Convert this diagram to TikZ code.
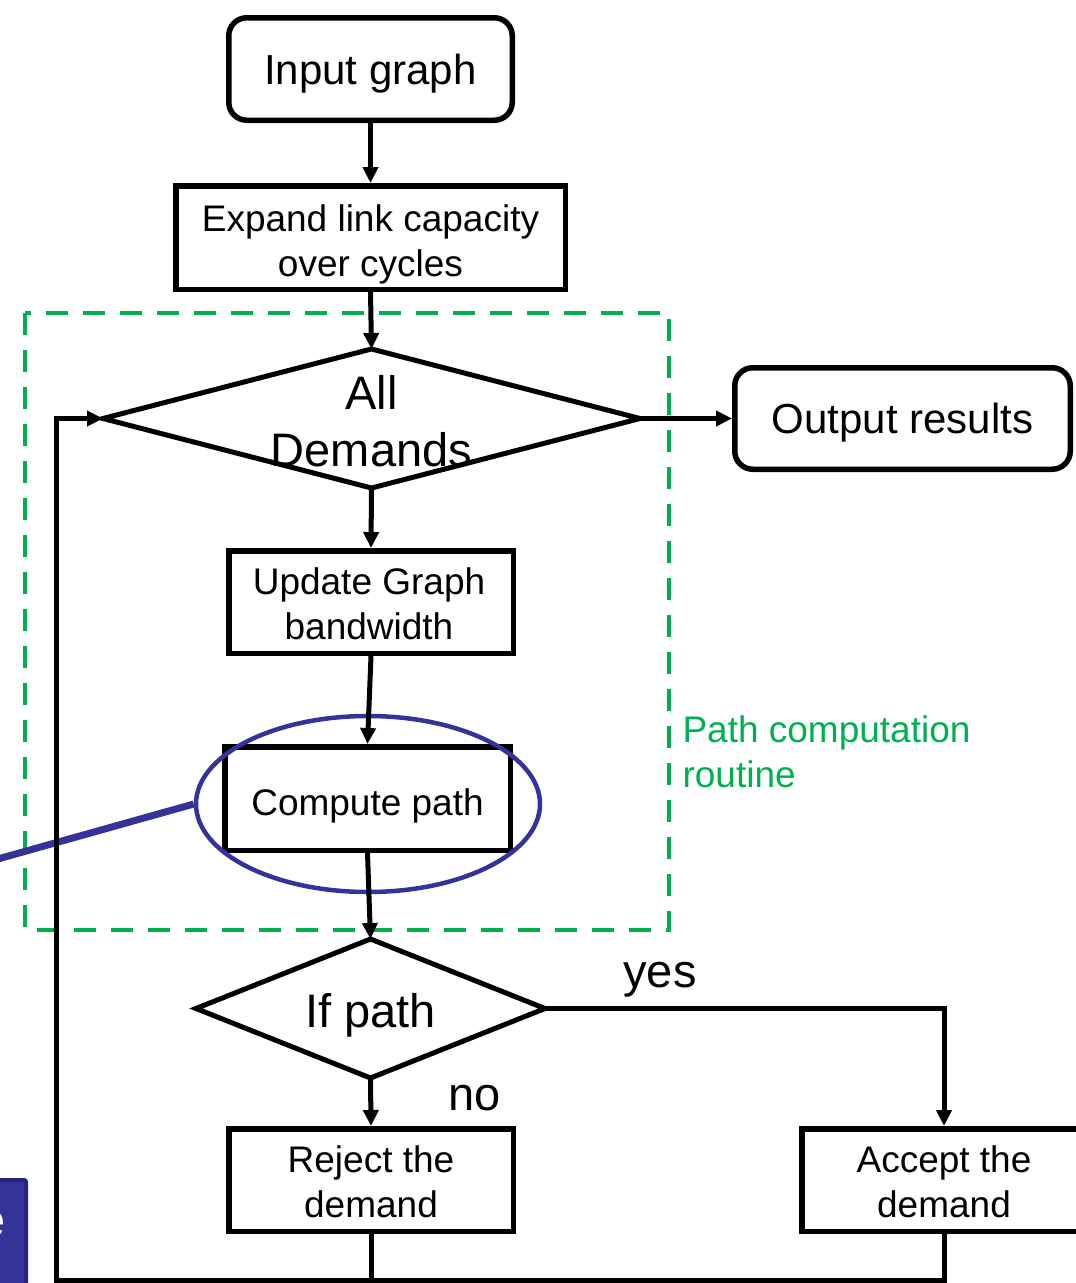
\documentclass[tikz,border=0pt]{standalone}
\usepackage{fontspec}
\setmainfont{Liberation Sans}
\usetikzlibrary{arrows.meta,shapes.geometric}
\definecolor{routinegreen}{RGB}{0,176,80}
\definecolor{ringblue}{RGB}{51,51,153}
\definecolor{tabedge}{RGB}{38,38,120}
\begin{document}
\begin{tikzpicture}[x=1pt,y=-1pt,
  txt/.style={font=\fontsize{37}{45}\selectfont},
  bigtxt/.style={font=\fontsize{47}{57}\selectfont},
  midtxt/.style={font=\fontsize{42}{50}\selectfont},
  box/.style={draw, line width=5.5pt, inner sep=0pt, align=center, txt},
  termbox/.style={box, rounded corners=18pt, midtxt},
  decision/.style={draw, diamond, line width=5pt, inner sep=0pt, outer sep=0pt},
  conn/.style={line width=5pt, -{Triangle[length=16pt,width=15pt]}},
  plain/.style={line width=5pt},
  routine/.style={draw=routinegreen, line width=4.5pt, dash pattern=on 22pt off 15pt},
]
\useasboundingbox (0,0) rectangle (1076,1283);

% routine frame
\draw[routine] (25,313) rectangle (669,930);
\node[anchor=west, align=left, text=routinegreen, txt] (routinelbl) at (679,752)
  {Path computation\\routine};

% flow nodes
\node[termbox, text depth=0pt, minimum width=283.5pt, minimum height=102.5pt] (input)
  at (370.5,69) {Input graph};
\node[box, minimum width=389.5pt, minimum height=103.5pt] (expand) at (370.5,237.5) {};
\node[txt, align=center] (expandtxt) at (370.5,244) {Expand link capacity\\over cycles};
\node[decision, minimum width=537pt, minimum height=139pt] (all) at (371.5,418.5) {};
\node[bigtxt, align=center] (alltxt) at (371.5,421.5) {All\\Demands};
\node[termbox, text depth=0pt, minimum width=335.5pt, minimum height=101.5pt] (output)
  at (902.5,418.5) {Output results};
\node[box, minimum width=284.5pt, minimum height=102.5pt] (update) at (371,602) {};
\node[txt, align=center] (updatetxt) at (369,603.5) {Update Graph\\bandwidth};
\node[box, minimum width=285.5pt, minimum height=103.5pt] (compute) at (367.5,798.5) {};
\node[txt] (computetxt) at (367.5,806) {Compute path};
\node[decision, minimum width=349pt, minimum height=139pt] (ifpath) at (370.5,1008.5) {};
\node[bigtxt] (iftxt) at (370.5,1015) {If path};
\node[box, minimum width=284.5pt, minimum height=102.5pt] (reject) at (371,1180) {};
\node[txt, align=center] (rejecttxt) at (371,1182) {Reject the\\demand};
\node[box, minimum width=284.5pt, minimum height=102.5pt] (accept) at (944,1180) {};
\node[txt, align=center] (accepttxt) at (944,1182) {Accept the\\demand};

% highlight ring with its pointer
\node[ellipse, draw=ringblue, line width=4.5pt, inner sep=0pt,
      minimum width=344pt, minimum height=176pt] (ring) at (368,804) {};
\coordinate (tail) at (-20,864);
\draw[ringblue, line width=7pt] (ring.west) -- (tail);

% side tab
\node[fill=ringblue, draw=tabedge, line width=4pt, rounded corners=2pt, anchor=north east,
      minimum width=80pt, minimum height=140pt] (tab) at (28,1178) {};
\node[text=white, bigtxt, anchor=base east] (tabtxt) at (9,1236) {e};

% branch labels
\node[bigtxt] (yes) at (660,980) {yes};
\node[bigtxt] (no) at (475,1098) {no};

% connectors
\coordinate (sw) at (56,1280);
\draw[conn] (input.south) -- (expand.north);
\draw[conn] (expand.south) -- (all.north);
\draw[conn] (all.south) -- (update.north);
\draw[conn] (update.south) -- (compute.north);
\draw[conn] (compute.south) -- (ifpath.north);
\draw[conn] (all.east) -- (output.west);
\draw[conn] (ifpath.east) -| (accept.north);
\draw[conn] (ifpath.south) -- (reject.north);
\draw[conn] (reject.south) -- (reject.south |- sw) -- (sw) -- (sw |- all.west) -- (all.west);
\draw[plain] (accept.south) -- (accept.south |- sw) -- (reject.south |- sw);
\end{tikzpicture}
\end{document}
